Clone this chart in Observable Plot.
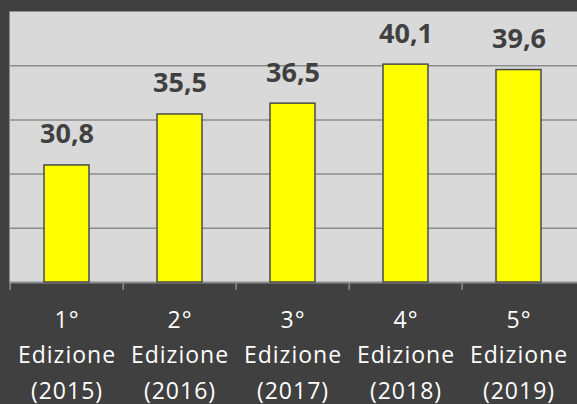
<!DOCTYPE html>
<html>
<head>
<meta charset="utf-8">
<script src="https://cdn.jsdelivr.net/npm/d3@7"></script>
<script src="https://cdn.jsdelivr.net/npm/@observablehq/plot@0.6"></script>
<style>
  html, body { margin: 0; padding: 0; background: #404040; }
  #chart svg { display: block; background: #404040; }
  #chart g[font-size="23"] text { letter-spacing: 1px; }
</style>
</head>
<body>
<div id="chart"></div>
<script>
const edizioni = ["1°", "2°", "3°", "4°", "5°"];
const etichetta = ["Edizione", "Edizione", "Edizione", "Edizione", "Edizione"];
const anni = ["(2015)", "(2016)", "(2017)", "(2018)", "(2019)"];
const valori = [30.8, 35.5, 36.5, 40.1, 39.6];
const yTicks = [25, 30, 35, 40];
const yMin = 20, yMax = 45;

const data = edizioni.map((e, i) => ({e, lab: etichetta[i], anno: anni[i], v: valori[i]}));
const fmt = d3.formatLocale({decimal: ",", thousands: ".", grouping: [3], currency: ["€", ""]}).format(".1f");

const W = 577, H = 404, mL = 9, mR = 0;
const step = (W - mL - mR) / (edizioni.length - 0.6 + 0.6);
const font = "'Open Sans', 'Noto Sans', sans-serif";

const plot = Plot.plot({
  width: W,
  height: H,
  marginTop: 11,
  marginBottom: 122,
  marginLeft: mL,
  marginRight: mR,
  style: {background: "#404040", fontFamily: font},
  x: {domain: edizioni, paddingInner: 0.6, paddingOuter: 0.3, axis: null},
  y: {domain: [yMin, yMax], axis: null},
  marks: [
    Plot.frame({fill: "#d9d9d9", stroke: "#8c8c8c", strokeWidth: 0.5}),
    Plot.ruleY(yTicks, {stroke: "#8c8c8c", strokeWidth: 1.5}),
    Plot.ruleY([yMin], {stroke: "#8c8c8c", strokeWidth: 2}),
    Plot.ruleX(edizioni, {x: d => d, dx: -step / 2, y1: yMin, y2: yMin, insetBottom: -8, stroke: "#8c8c8c", strokeWidth: 1.5}),
    Plot.barY(data, {x: "e", y1: yMin, y2: "v", fill: "#ffff00", stroke: "#4a4a4a", strokeWidth: 1.5}),
    Plot.text(data, {x: "e", y: "v", text: d => fmt(d.v), lineAnchor: "bottom", dy: -22, fill: "#404040", fontWeight: "bold", fontSize: 27, fontFamily: font}),
    Plot.text(data, {x: "e", y: yMin, text: "e", lineAnchor: "bottom", dy: 45, fill: "#ffffff", fontSize: 23, fontFamily: font}),
    Plot.text(data, {x: "e", y: yMin, text: "lab", lineAnchor: "bottom", dy: 80.5, fill: "#ffffff", fontSize: 23, fontFamily: font}),
    Plot.text(data, {x: "e", y: yMin, text: "anno", lineAnchor: "bottom", dy: 116, fill: "#ffffff", fontSize: 23, fontFamily: font})
  ]
});
document.getElementById("chart").append(plot);
</script>
</body>
</html>
